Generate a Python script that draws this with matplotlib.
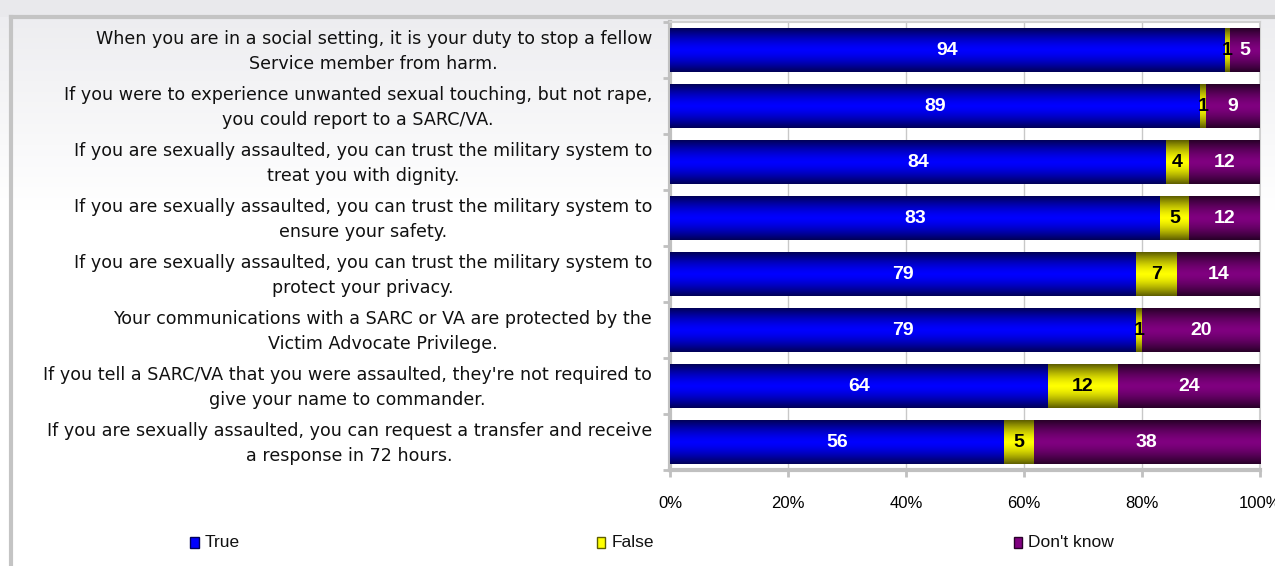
import numpy as np
import matplotlib
matplotlib.use("Agg")
import matplotlib.pyplot as plt
from matplotlib.patches import Rectangle
from matplotlib.lines import Line2D
from matplotlib.transforms import ScaledTranslation

# ---------------- Data ----------------
statements = [
    "When you are in a social setting, it is your duty to stop a fellow\nService member from harm.",
    "If you were to experience unwanted sexual touching, but not rape,\nyou could report to a SARC/VA.",
    "If you are sexually assaulted, you can trust the military system to\ntreat you with dignity.",
    "If you are sexually assaulted, you can trust the military system to\nensure your safety.",
    "If you are sexually assaulted, you can trust the military system to\nprotect your privacy.",
    "Your communications with a SARC or VA are protected by the\nVictim Advocate Privilege.",
    "If you tell a SARC/VA that you were assaulted, they're not required to\ngive your name to commander.",
    "If you are sexually assaulted, you can request a transfer and receive\na response in 72 hours.",
]
true_vals = [94, 89, 84, 83, 79, 79, 64, 56]
false_vals = [1, 1, 4, 5, 7, 1, 12, 5]
dontknow_vals = [5, 9, 12, 12, 14, 20, 24, 38]
series_names = ["True", "False", "Don't know"]
x_ticks = [0, 20, 40, 60, 80, 100]
x_tick_labels = ["0%", "20%", "40%", "60%", "80%", "100%"]

# colours: (edge shade, centre shade) for the shaded bars
shades = {
    "True": ("#000058", "#0000ff"),
    "False": ("#5e5e00", "#ffff00"),
    "Don't know": ("#280028", "#800080"),
}
label_colors = {"True": "white", "False": "black", "Don't know": "white"}

NARROW = ["Liberation Sans Narrow", "Liberation Sans", "DejaVu Sans"]
LABELS = ["DejaVu Sans"]


def gradient(edge, centre, n=64):
    e = np.array(matplotlib.colors.to_rgb(edge))
    c = np.array(matplotlib.colors.to_rgb(centre))
    t = np.linspace(-1, 1, n)
    w = np.clip(np.abs(t) ** 1.5, 0, 1)[:, None]
    return (c * (1 - w) + e * w)[:, None, :]


# ---------------- Figure ----------------
fig = plt.figure(figsize=(12.75, 5.66), dpi=100)
fig.patch.set_facecolor("#e9e9ec")

# background gradient inside the frame
bg = fig.add_axes([0, 0, 1, 0.97], zorder=-10)
g = np.linspace(0, 1, 200)
top = np.array(matplotlib.colors.to_rgb("#ededf0"))
w = np.clip(g / 0.35, 0, 1)[:, None]
bg_img = (top * (1 - w) + np.ones(3) * w)[:, None, :]
bg.imshow(bg_img, aspect="auto", extent=(0, 1, 1, 0))
bg.set_axis_off()

# frame lines
fig.add_artist(Line2D([0.0086, 1.0], [0.970, 0.970], transform=fig.transFigure,
                      color="#c4c4c4", lw=3))
fig.add_artist(Line2D([0.0086, 0.0086], [0.0, 0.970], transform=fig.transFigure,
                      color="#c4c4c4", lw=3))

ax = fig.add_axes([0.5255, 0.1696, 0.4627, 0.7915])
ax.set_facecolor("white")

y = np.arange(len(statements))
totals = np.array(true_vals) + np.array(false_vals) + np.array(dontknow_vals)
series = [true_vals, false_vals, dontknow_vals]
left = np.zeros(len(y))
bar_h = 0.78
for name, vals in zip(series_names, series):
    pct = np.array(vals) / totals * 100
    bars = ax.barh(y, pct, left=left, height=bar_h, color=shades[name][1],
                   edgecolor="none", zorder=2)
    grad = gradient(*shades[name])
    for rect, v in zip(bars, vals):
        x0, y0 = rect.get_x(), rect.get_y()
        wdt, hgt = rect.get_width(), rect.get_height()
        ax.imshow(grad, extent=(x0, x0 + wdt, y0 + hgt, y0), aspect="auto",
                  zorder=3, interpolation="bilinear")
        ax.text(x0 + wdt / 2, y0 + hgt / 2, str(v), ha="center", va="center",
                color=label_colors[name], fontsize=14, fontweight="bold",
                family=NARROW, zorder=4)
    left += pct

ax.set_xlim(0, 100)
ax.set_ylim(len(y) - 0.5, -0.5)

# grid and spines
ax.set_axisbelow(True)
ax.xaxis.grid(True, color="#c8c8c8", lw=1)
for s in ["left", "bottom"]:
    ax.spines[s].set_color("#c0c0c0")
    ax.spines[s].set_linewidth(3)
for s in ["top", "right"]:
    ax.spines[s].set_color("#d0d0d0")
    ax.spines[s].set_linewidth(1.5)

ax.set_xticks(x_ticks)
ax.set_xticklabels(x_tick_labels, family=NARROW, fontsize=12)
ax.tick_params(axis="x", length=5, width=2, color="#c0c0c0", pad=14)

ax.set_yticks(y)
ax.set_yticklabels(statements, family=LABELS, fontsize=12.6,
                   multialignment="center", linespacing=1.5, color="#111111")
ax.tick_params(axis="y", length=0, pad=13)
ax.set_yticks(np.arange(-0.5, len(y)), minor=True)
ax.tick_params(axis="y", which="minor", length=5, width=2, color="#c0c0c0")
shift = ScaledTranslation(0, 3 / 72, fig.dpi_scale_trans)
for lbl in ax.get_yticklabels():
    lbl.set_transform(lbl.get_transform() + shift)

# legend
legend_x = [0.149, 0.468, 0.795]
for name, lx in zip(series_names, legend_x):
    fig.add_artist(Rectangle((lx, 0.032), 0.0068, 0.019, transform=fig.transFigure,
                             facecolor=shades[name][1], edgecolor=shades[name][0], lw=1))
    fig.text(lx + 0.0115, 0.042, name, fontsize=12.5, family=NARROW,
             va="center", ha="left", color="#111111")

fig.savefig("out.png", dpi=100)
